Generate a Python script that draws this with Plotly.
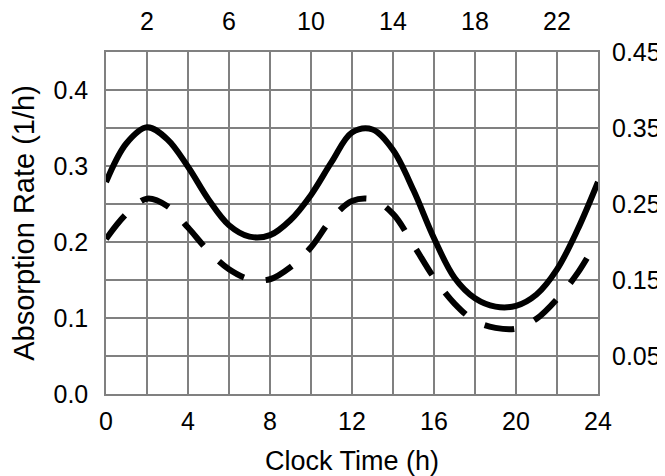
import plotly.graph_objects as go

# Clock time (h) and absorption rate (1/h)
solid_t = [0, 1, 2, 3, 4, 5, 6, 7, 8, 9, 10, 11, 12, 13, 14, 15, 16, 17, 18, 19, 20, 21, 22, 23, 24]
solid_v = [0.279, 0.330, 0.351, 0.335, 0.299, 0.256, 0.222, 0.207, 0.209, 0.229, 0.262, 0.305, 0.344, 0.348, 0.321, 0.268, 0.205, 0.153, 0.126, 0.115, 0.116, 0.131, 0.164, 0.216, 0.279]

dash_t = [0, 1, 2, 3, 4, 5, 6, 7, 8, 9, 10, 11, 12, 13, 14, 15, 16, 17, 18, 19, 20, 21, 22, 23, 24]
dash_v = [0.204, 0.237, 0.257, 0.247, 0.219, 0.188, 0.164, 0.151, 0.151, 0.167, 0.193, 0.230, 0.254, 0.256, 0.237, 0.196, 0.153, 0.119, 0.096, 0.087, 0.086, 0.099, 0.125, 0.159, 0.204]

bottom_ticks = [0, 4, 8, 12, 16, 20, 24]
top_ticks = [2, 6, 10, 14, 18, 22]
left_ticks = [0.0, 0.1, 0.2, 0.3, 0.4]
left_labels = ["0.0", "0.1", "0.2", "0.3", "0.4"]
right_ticks = [0.05, 0.15, 0.25, 0.35, 0.45]
right_labels = ["0.05", "0.15", "0.25", "0.35", "0.45"]

GRID = "#808080"
FONT = "Liberation Sans, Arial, sans-serif"

fig = go.Figure()
fig.add_trace(go.Scatter(x=solid_t, y=solid_v, mode="lines",
                         line=dict(color="black", width=6, shape="spline", smoothing=1.0),
                         showlegend=False, hoverinfo="skip"))
fig.add_trace(go.Scatter(x=dash_t, y=dash_v, mode="lines",
                         line=dict(color="black", width=6, shape="spline", smoothing=1.0, dash="30px,22px"),
                         showlegend=False, hoverinfo="skip"))
# invisible trace to activate the secondary axes
fig.add_trace(go.Scatter(x=[0], y=[0], xaxis="x2", yaxis="y2", mode="markers",
                         marker=dict(opacity=0), showlegend=False, hoverinfo="skip"))

# page body has an 8px margin, so the figure is 8px smaller than the window
fig.update_layout(
    width=657, height=468,
    margin=dict(l=98, r=67, t=44, b=82, autoexpand=False),
    paper_bgcolor="white", plot_bgcolor="white",
    font=dict(family=FONT, size=25, color="black"),
    xaxis=dict(range=[0, 24], tickvals=bottom_ticks, ticktext=[str(v) for v in bottom_ticks],
               showgrid=True, gridcolor=GRID, gridwidth=1.5, zeroline=False,
               showline=True, linecolor=GRID, linewidth=1.5, mirror=True,
               ticks="", ticklabelstandoff=4, automargin=False,
               title=dict(text="Clock Time (h)", font=dict(size=27), standoff=18)),
    xaxis2=dict(range=[0, 24], overlaying="x", side="top", tickvals=top_ticks,
                ticktext=[str(v) for v in top_ticks],
                showgrid=True, gridcolor=GRID, gridwidth=1.5, zeroline=False,
                showline=False, ticks="", ticklabelstandoff=16, automargin=False),
    yaxis=dict(range=[0, 0.45], tickvals=left_ticks, ticktext=left_labels,
               showgrid=True, gridcolor=GRID, gridwidth=1.5, zeroline=False,
               showline=True, linecolor=GRID, linewidth=1.5, mirror=True,
               ticks="", ticklabelstandoff=11, automargin=False,
               title=dict(text="Absorption Rate (1/h)", font=dict(size=29), standoff=21)),
    yaxis2=dict(range=[0, 0.45], overlaying="y", side="right", tickvals=right_ticks,
                ticktext=right_labels,
                showgrid=True, gridcolor=GRID, gridwidth=1.5, zeroline=False,
                showline=False, ticks="", ticklabelstandoff=13, automargin=False),
)

fig.write_html("out.html")
